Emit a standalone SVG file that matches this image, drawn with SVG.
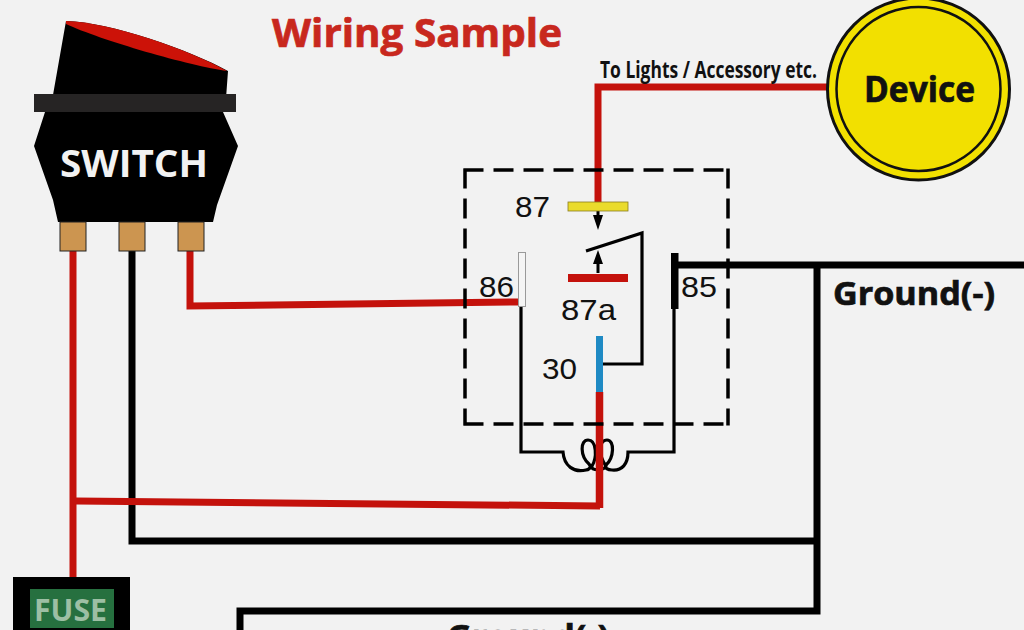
<svg xmlns="http://www.w3.org/2000/svg" width="1024" height="630" viewBox="0 0 1024 630">
<style>
.w{fill:none;stroke-linejoin:miter;stroke-linecap:butt}
.red{stroke:#c4120c;stroke-width:7}
.blk{stroke:#000;stroke-width:7}
.thin{stroke:#000;stroke-width:3.2}
.b{font-family:"Open Sans","Liberation Sans",sans-serif;font-weight:700}
.s{stroke-width:0.7}
.n{font-family:"Liberation Sans",Arial,sans-serif;font-size:30px;fill:#111}
</style>
<rect width="1024" height="630" fill="#f2f2f2"/>

<g id="connectors">
<path class="w red" d="M73 250V578"/>
<path class="w blk" d="M132 250V541H817"/>
<path class="w red" d="M190 250V306L518 302"/>
<path class="w red" d="M76 501L600 506"/>
<path class="w blk" d="M675 265H1024"/>
<path class="w blk" d="M817 265V611H240V630"/>
<path class="w red" d="M830 87H598V202"/>
<path class="w thin" d="M521 307V452H563C564 466 574 473 586 470C591 469 591 466 589 464C580 456 580 440 588 440C597 440 597 458 592 466C590 471 604 471 606 466C598 455 599 440 607 440C615 440 614 458 606 465C604 468 608 470 612 470C622 471 628 464 628 452H674V309"/>
<path class="w thin" d="M586 251L642 233V364H603"/>
<path class="w" stroke="#000" stroke-width="3" d="M598 211V216M598 273V264"/>
<path d="M593 215H603L598 230Z M593 264H603L598 250Z" fill="#000"/>
<path class="w" stroke="#c4120c" stroke-width="7.500" d="M599.500 392V508"/>
</g>

<g id="relay">
<path class="w" stroke="#000" stroke-width="3.500" stroke-dasharray="20 10" d="M463.500 170H729.500M465 168.500V425.500M728 168.500V425.500M463.500 424H729.500"/>
<rect x="568" y="202" width="60" height="9" fill="#eadb2c" stroke="#8a7d20" stroke-width="0.8"/>
<rect x="568" y="274" width="60" height="8" fill="#c4120c"/>
<rect x="596" y="336" width="7" height="56" fill="#1f8ac4"/>
<rect x="518.500" y="252.500" width="7" height="54" fill="#f5f5f5" stroke="#9a9a9a" stroke-width="1"/>
<rect x="671" y="253" width="7.500" height="56" fill="#000"/>
<text class="n" x="515" y="217" textLength="35" lengthAdjust="spacingAndGlyphs">87</text>
<text class="n" x="479" y="297" textLength="35" lengthAdjust="spacingAndGlyphs">86</text>
<text class="n" x="681" y="297" textLength="36" lengthAdjust="spacingAndGlyphs">85</text>
<text class="n" x="561" y="320" textLength="55" lengthAdjust="spacingAndGlyphs">87a</text>
<text class="n" x="542" y="379" textLength="35" lengthAdjust="spacingAndGlyphs">30</text>
</g>

<g id="switch">
<path d="M66 21C110 22 190 50 228 71L225 112H223L238 146L217 205L213 222H58L53 200L34 146L45 112H50Z" fill="#000"/>
<path d="M66 21C110 22 190 50 227 71C190 66 100 40 66 24Z" fill="#cc1208"/>
<rect x="34" y="94" width="202" height="18" fill="#262424"/>
<rect x="60" y="222" width="26" height="29" fill="#cc9550" stroke="#222" stroke-width="1"/>
<rect x="119" y="222" width="26" height="29" fill="#cc9550" stroke="#222" stroke-width="1"/>
<rect x="178" y="222" width="26" height="29" fill="#cc9550" stroke="#222" stroke-width="1"/>
<text class="b" x="60" y="177" font-size="37" fill="#f2f2f2" textLength="148" lengthAdjust="spacingAndGlyphs">SWITCH</text>
</g>

<g id="device">
<circle cx="918.500" cy="89" r="91" fill="#f2e000" stroke="#111" stroke-width="3"/>
<circle cx="918.500" cy="89" r="82" fill="none" stroke="#111" stroke-width="2.500"/>
<text class="b s" x="864" y="102" font-size="35" fill="#111" stroke="#111" textLength="111" lengthAdjust="spacingAndGlyphs">Device</text>
</g>

<g id="fuse">
<rect x="13" y="577" width="117" height="53" fill="#000"/>
<rect x="30" y="589" width="84" height="39" fill="#26703f"/>
<text class="b" x="34" y="621" font-size="30" fill="#9dbfa4" textLength="73" lengthAdjust="spacingAndGlyphs">FUSE</text>
</g>

<g id="labels">
<text class="b s" x="272" y="47" font-size="40" fill="#c8281e" stroke="#c8281e" textLength="290" lengthAdjust="spacingAndGlyphs">Wiring Sample</text>
<text class="b" x="600" y="78" font-size="23" fill="#111" textLength="217" lengthAdjust="spacingAndGlyphs">To Lights / Accessory etc.</text>
<text class="b s" x="833" y="305" font-size="33" fill="#111" stroke="#111" textLength="162" lengthAdjust="spacingAndGlyphs">Ground(-)</text>
<text class="b s" x="447" y="648" font-size="33" fill="#111" stroke="#111" textLength="162" lengthAdjust="spacingAndGlyphs">Ground(-)</text>
</g>
</svg>
